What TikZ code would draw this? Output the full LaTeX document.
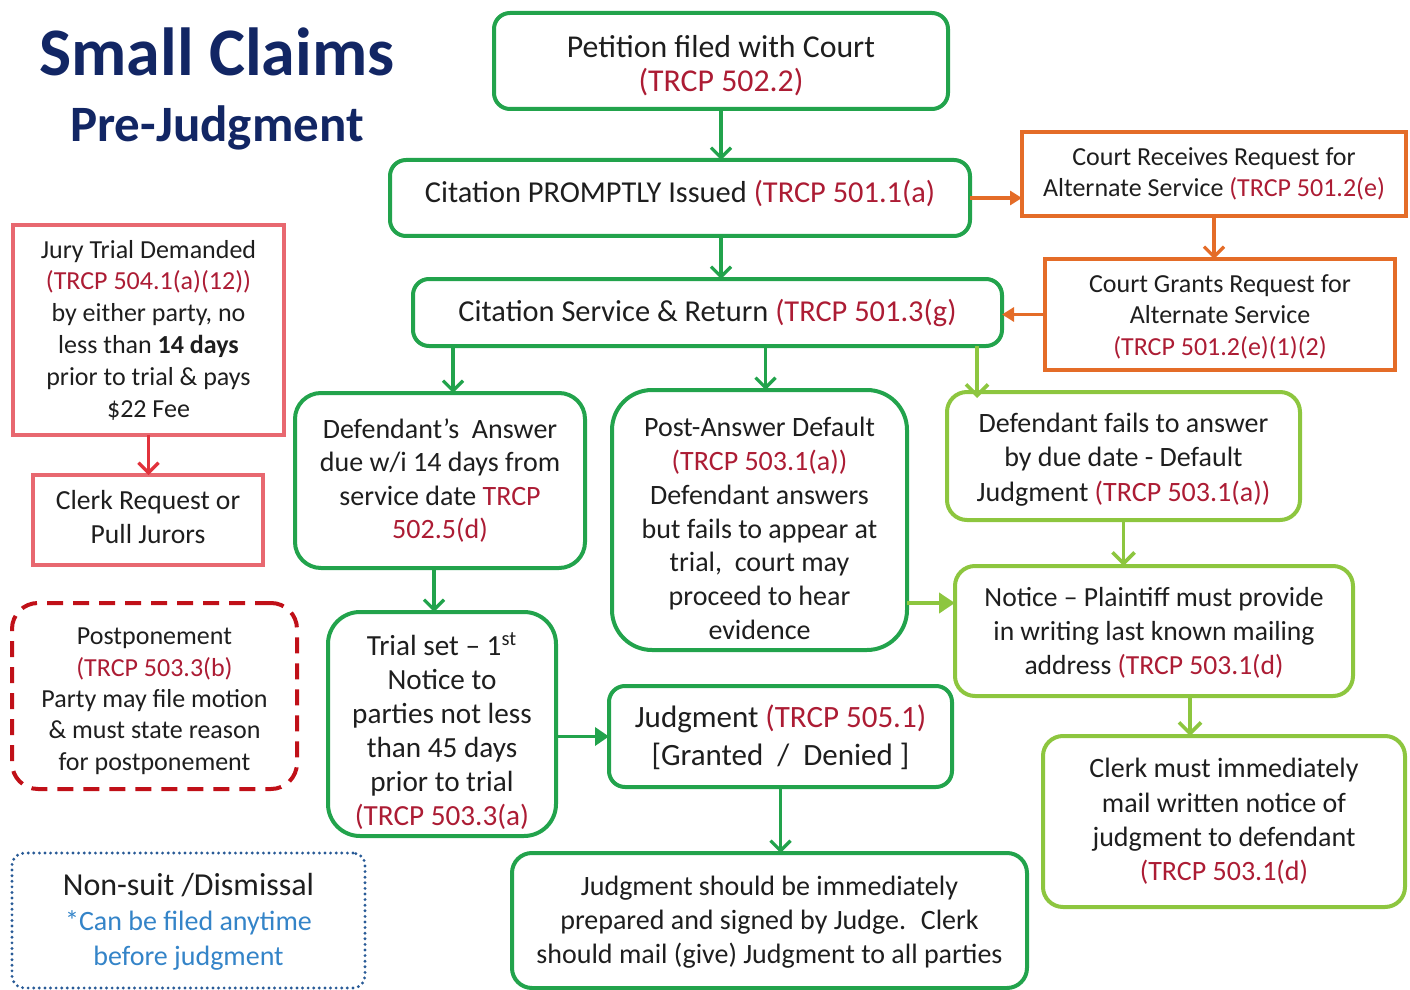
\documentclass[tikz,border=0pt]{standalone}
\usepackage{fontspec}
\setmainfont{Carlito}
\usetikzlibrary{arrows.meta}
\definecolor{dgreen}{RGB}{34,163,76}
\definecolor{lgreen}{RGB}{141,198,63}
\definecolor{orng}{RGB}{228,108,40}
\definecolor{pinkr}{RGB}{232,104,112}
\definecolor{arrred}{RGB}{226,50,60}
\definecolor{dred}{RGB}{192,16,24}
\definecolor{dblue}{RGB}{40,90,150}
\definecolor{tblue}{RGB}{52,132,200}
\definecolor{trcp}{RGB}{172,28,52}
\definecolor{navy}{RGB}{18,38,100}
\definecolor{txt}{RGB}{30,30,30}
\newcommand{\tr}[1]{\textcolor{trcp}{#1}}
% push text down: extra height on first line
\newcommand{\dn}[1]{\rule{0pt}{\dimexpr\fontcharht\font`l+#1\relax}}
% push text up: extra depth on last line
\newcommand{\up}[1]{\rule[\dimexpr-\fontchardp\font`\(-#1\relax]{0pt}{0pt}}
\tikzset{
  area/.style n args={4}{at={({(#1+#3)/2},{(#2+#4)/2})}, minimum width={(#3-#1)*0.5pt}, minimum height={(#4-#2)*0.5pt}},
  bx/.style={inner sep=0pt, outer sep=0pt, align=center, text=txt, rectangle},
  gbox/.style={bx, draw=dgreen, line width=2pt, rounded corners=#1},
  gbox/.default=8pt,
  lbox/.style={bx, draw=lgreen, line width=2pt, rounded corners=10pt},
  obox/.style={bx, draw=orng, line width=2pt},
  rbox/.style={bx, draw=pinkr, line width=1.7pt},
  garr/.style={draw=dgreen, line width=1.6pt, -{Straight Barb[length=5pt,width=10pt,line width=1.6pt]}},
  garrh/.style={draw=dgreen, line width=1.8pt, -{Triangle[length=7pt,width=9pt]}},
  larr/.style={draw=lgreen, line width=1.8pt, -{Straight Barb[length=5.5pt,width=11pt,line width=1.8pt]}},
  larrh/.style={draw=lgreen, line width=2.2pt, -{Triangle[length=8pt,width=10pt]}},
  oarr/.style={draw=orng, line width=1.6pt, -{Triangle[length=6pt,width=7pt]}},
  oarrv/.style={draw=orng, line width=1.6pt, -{Straight Barb[length=5pt,width=10pt,line width=1.6pt]}},
  rarr/.style={draw=arrred, line width=1.6pt, -{Straight Barb[length=5pt,width=10pt,line width=1.6pt]}},
}
\begin{document}
\begin{tikzpicture}[x=0.5pt,y=-0.5pt]
\useasboundingbox (0,0) rectangle (1410,990);
% title
\node[anchor=base, text=navy, font=\fontsize{34}{40}\selectfont\bfseries] (t1) at (217,76) {Small Claims};
\node[anchor=base, text=navy, font=\fontsize{25.5}{30}\selectfont\bfseries] (t2) at (217,142) {Pre-Judgment};
% top chain
\node[gbox, area={494}{13}{948}{109}, font=\fontsize{15.9}{17}\selectfont] (pet) {\dn{5pt}Petition filed with Court\\\tr{(TRCP 502.2)}};
\node[gbox, area={390}{160}{970}{236}, font=\fontsize{15.2}{17}\selectfont] (cit) {Citation PROMPTLY Issued \tr{(TRCP 501.1(a)}\up{5pt}};
\node[gbox, area={413}{279}{1002}{346}, font=\fontsize{15.2}{17}\selectfont] (svc) {Citation Service \& Return \tr{(TRCP 501.3(g)}};
% orange
\node[obox, area={1022}{132}{1406}{216}, font=\fontsize{13}{15.5}\selectfont] (recv) {Court Receives Request for\\Alternate Service \tr{(TRCP 501.2(e)}};
\node[obox, area={1045}{259}{1395}{370}, font=\fontsize{13}{15.8}\selectfont] (grant) {\dn{2pt}Court Grants Request for\\Alternate Service\\\tr{(TRCP 501.2(e)(1)(2)}};
% left column
\node[rbox, area={13}{225}{284}{435}, font=\fontsize{13}{15.9}\selectfont] (jury) {Jury Trial Demanded\\\tr{(TRCP 504.1(a)(12))}\\by either party, no\\less than \textbf{14 days}\\prior to trial \& pays\\\$22 Fee};
\node[rbox, area={33}{475}{263}{565}, font=\fontsize{13.8}{17}\selectfont] (clreq) {Clerk Request or\\Pull Jurors\rule[-3pt]{0pt}{0pt}};
\node[bx, draw=dred, line width=2pt, dash pattern=on 8pt off 5pt, rounded corners=13pt, area={12}{603}{297}{789}, font=\fontsize{13}{15.7}\selectfont] (post) {\dn{4.5pt}Postponement\\\tr{(TRCP 503.3(b)}\\Party may file motion\\\& must state reason\\for postponement};
\node[bx, draw=dblue, line width=1.6pt, line cap=round, dash pattern=on 0pt off 2.8pt, rounded corners=6pt, area={12}{853}{365}{988}, font=\fontsize{14}{17.5}\selectfont] (ns) {{\fontsize{16}{17.5}\selectfont\dn{1.5pt}Non-suit /Dismissal}\\\textcolor{tblue}{*Can be filed anytime}\\\textcolor{tblue}{before judgment}};
% middle
\node[gbox=13pt, area={295}{393}{585}{568}, font=\fontsize{14}{16.8}\selectfont] (da) {Defendant’s~ Answer\\due w/i 14 days from\\service date \tr{TRCP}\\\tr{502.5(d)}};
\node[gbox=20pt, area={612}{390}{907}{650}, font=\fontsize{14}{16.9}\selectfont] (pad) {\dn{8.5pt}Post-Answer Default\\\tr{(TRCP 503.1(a))}\\Defendant answers\\but fails to appear at\\trial,~ court may\\proceed to hear\\evidence};
\node[gbox=16pt, area={328}{612}{556}{836}, font=\fontsize{14.6}{17}\selectfont] (trial) {\dn{8.5pt}Trial set -- 1\textsuperscript{st}\\Notice to\\parties not less\\than 45 days\\prior to trial\\\tr{(TRCP 503.3(a)}};
\node[gbox=8pt, area={609}{686}{952}{787}, font=\fontsize{15.5}{19}\selectfont] (judg) {\dn{1.5pt}Judgment \tr{(TRCP 505.1)}\\{[}Granted~ /~ Denied ]};
\node[gbox=10pt, area={512}{853}{1027}{988}, font=\fontsize{14}{17}\selectfont] (jsh) {\dn{2pt}Judgment should be immediately\\prepared and signed by Judge.~ Clerk\\should mail (give) Judgment to all parties};
% right light green
\node[lbox, area={947}{392}{1300}{520}, font=\fontsize{14}{17.3}\selectfont] (dfail) {\dn{3.5pt}Defendant fails to answer\\by due date - Default\\Judgment \tr{(TRCP 503.1(a))}};
\node[lbox, area={955}{566}{1353}{696}, font=\fontsize{13.8}{17}\selectfont] (notice) {\dn{2pt}Notice -- Plaintiff must provide\\in writing last known mailing\\address \tr{(TRCP 503.1(d)}};
\node[lbox, area={1043}{736}{1405}{907}, font=\fontsize{14}{17.2}\selectfont] (clm) {Clerk must immediately\\mail written notice of\\judgment to defendant\\\tr{(TRCP 503.1(d)}};
% arrows
\draw[garr] (pet.south) -- (pet.south |- cit.north);
\draw[garr] (cit.south -| pet.south) -- (svc.north -| pet.south);
\draw[oarr] (cit.east) -- (cit.east -| recv.west);
\draw[oarrv] (recv.south) -- (recv.south |- grant.north);
\draw[oarr] (grant.west) -- (grant.west -| svc.east);
\draw[garr] ([xshift=6.5pt]da.north |- svc.south) -- ([xshift=6.5pt]da.north);
\draw[garr] ([xshift=3pt]pad.north |- svc.south) -- ([xshift=3pt]pad.north);
\draw[larr] ([xshift=15pt]dfail.north west |- svc.south) -- ([xshift=15pt,yshift=-3pt]dfail.north west);
\draw[larr] (dfail.south) -- (dfail.south |- notice.north);
\draw[larrh] ([yshift=14pt]notice.west -| pad.east) -- ([yshift=14pt]notice.west);
\draw[larr] ([xshift=18pt]notice.south) -- ([xshift=18pt]notice.south |- clm.north);
\draw[garr] ([xshift=-4pt]trial.north |- da.south) -- ([xshift=-4pt]trial.north);
\draw[garrh] (judg.west -| trial.east) -- (judg.west);
\draw[garr] (judg.south) -- (judg.south |- jsh.north);
\draw[rarr] (jury.south) -- (jury.south |- clreq.north);
\end{tikzpicture}
\end{document}
